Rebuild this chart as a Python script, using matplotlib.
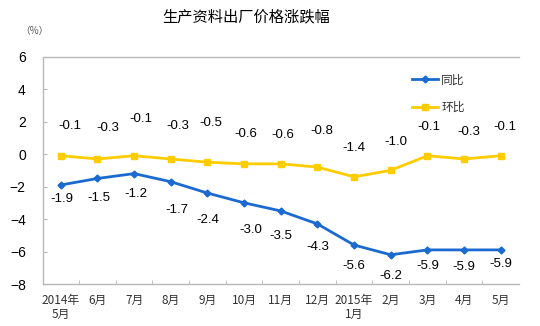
import numpy as np
import matplotlib.pyplot as plt
from matplotlib.ticker import FixedLocator

plt.rcParams['font.family'] = ['Liberation Sans', 'Noto Sans CJK SC', 'DejaVu Sans']

# Data
months = ['2014年\n5月', '6月', '7月', '8月', '9月', '10月', '11月', '12月',
          '2015年\n1月', '2月', '3月', '4月', '5月']
yoy = [-1.9, -1.5, -1.2, -1.7, -2.4, -3.0, -3.5, -4.3, -5.6, -6.2, -5.9, -5.9, -5.9]   # 同比
mom = [-0.1, -0.3, -0.1, -0.3, -0.5, -0.6, -0.6, -0.8, -1.4, -1.0, -0.1, -0.3, -0.1]   # 环比
y_ticks = [6, 4, 2, 0, -2, -4, -6, -8]

# label offsets in pixels (dx, dy)
mom_dx = [9, 10, 7, 7, 3, 2, 2, 4, 0, 5, 2, 5, 4]
mom_dy = [30, 31, 37, 33, 39, 30, 29, 36, 29, 28, 29, 27, 29]
yoy_dx = [1, 1, 2, 6, 0, 7, 0, 0, 0, 0, 0, 0, 0]
yoy_dy = [-14, -20, -20, -28, -27, -27, -25, -23, -21, -21, -16, -17, -14]

blue = '#1B6AD0'
yellow = '#FFCC00'
grid_c = '#B8B8B8'

fig = plt.figure(figsize=(5.4, 3.26), dpi=100)
ax = fig.add_axes([42.5 / 540, 1 - 284 / 326, (519 - 42.5) / 540, (284 - 56.7) / 326])

x = np.arange(len(months))
ax.plot(x, yoy, color=blue, lw=2.0, marker='D', ms=3.5, label='同比')
ax.plot(x, mom, color=yellow, lw=2.0, marker='s', ms=5, label='环比')

for i in range(len(x)):
    ax.annotate(f'{mom[i]:.1f}', (x[i], mom[i]), xytext=(mom_dx[i], mom_dy[i]),
                textcoords='offset pixels', ha='center', va='center', fontsize=9.5)
    ax.annotate(f'{yoy[i]:.1f}', (x[i], yoy[i]), xytext=(yoy_dx[i], yoy_dy[i]),
                textcoords='offset pixels', ha='center', va='center', fontsize=9.5)

ax.set_xlim(-0.5, len(months) - 0.5)
ax.set_ylim(-8, 6)
ax.set_yticks(y_ticks)
ax.tick_params(axis='y', direction='in', length=3, color=grid_c, labelsize=10, pad=12)

ax.set_xticks(x)
ax.set_xticklabels(months, fontsize=8.5, color='#333333', family=['Noto Sans CJK SC'],
                   linespacing=1.1)
ax.xaxis.set_minor_locator(FixedLocator(np.arange(0.5, len(months) - 1, 1)))
ax.tick_params(axis='x', which='major', length=0, pad=7)
ax.tick_params(axis='x', which='minor', direction='in', length=3, color=grid_c)

for s in ['left', 'bottom', 'top']:
    ax.spines[s].set_color(grid_c)
    ax.spines[s].set_linestyle((0, (1, 1)))
    ax.spines[s].set_linewidth(1)
ax.spines['right'].set_visible(False)

fig.text(246 / 540, 1 - 17 / 326, '生产资料出厂价格涨跌幅', ha='center', va='center',
         fontsize=11, family=['Noto Sans CJK SC'])
fig.text(34 / 540, 1 - 31 / 326, '（%）', ha='center', va='center', fontsize=7,
         color='#555555', family=['Noto Sans CJK SC'])

ax.legend(loc='upper left', bbox_to_anchor=(401 / 540, 1 - 63 / 326),
          bbox_transform=fig.transFigure, frameon=False, numpoints=1,
          handlelength=2.2, handletextpad=0.3, labelspacing=1.2,
          prop={'family': 'Noto Sans CJK SC', 'size': 8.5}, labelcolor='#333333')

fig.savefig('out.png', dpi=100)
